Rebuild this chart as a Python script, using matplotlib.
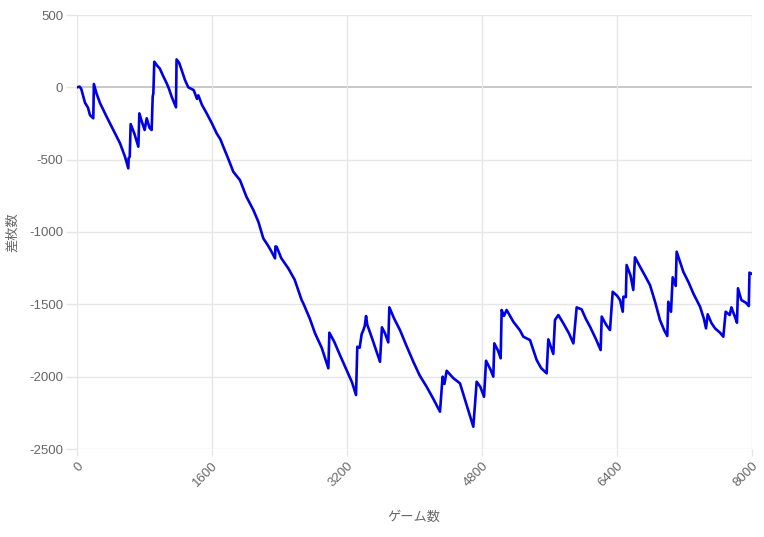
import matplotlib
matplotlib.use("Agg")
import matplotlib.pyplot as plt

games = [0, 30, 50, 95, 130, 154, 193, 200, 230, 273, 351, 430, 510, 569, 608, 612, 625, 636, 680, 727,
         739, 770, 802, 826, 860, 885, 897, 905, 916, 950, 980, 1020, 1063, 1090, 1122, 1173, 1180, 1210,
         1240, 1280, 1319, 1383, 1410, 1422, 1438, 1480, 1537, 1600, 1655, 1700, 1734, 1790, 1852, 1932,
         2008, 2090, 2150, 2208, 2260, 2300, 2347, 2352, 2366, 2420, 2504, 2580, 2662, 2682, 2760, 2821,
         2900, 2979, 2991, 3050, 3116, 3200, 3260, 3307, 3322, 3350, 3374, 3394, 3410, 3426, 3440, 3500,
         3591, 3614, 3650, 3689, 3702, 3760, 3828, 3900, 3986, 4060, 4144, 4220, 4302, 4333, 4355, 4381,
         4460, 4539, 4620, 4697, 4737, 4780, 4824, 4848, 4900, 4934, 4946, 4990, 5021, 5033, 5060, 5092,
         5171, 5250, 5290, 5369, 5448, 5500, 5566, 5586, 5620, 5645, 5665, 5705, 5764, 5830, 5883, 5922,
         5981, 6030, 6080, 6150, 6206, 6219, 6270, 6317, 6349, 6400, 6436, 6468, 6476, 6505, 6514, 6560,
         6593, 6613, 6673, 6730, 6791, 6850, 6909, 6960, 6996, 7008, 7040, 7060, 7096, 7107, 7186, 7250,
         7304, 7384, 7430, 7455, 7475, 7520, 7562, 7621, 7660, 7688, 7736, 7756, 7800, 7822, 7834, 7873,
         7930, 7962, 7970, 8000]
diff = [0, 5, -10, -107, -140, -192, -214, 23, -40, -109, -203, -295, -387, -480, -560, -490, -480, -254,
        -320, -410, -180, -240, -295, -214, -280, -295, -65, -40, 177, 150, 131, 80, 28, -10, -65, -138,
        193, 170, 120, 50, 0, -19, -60, -80, -55, -120, -180, -250, -318, -360, -410, -490, -583, -642,
        -756, -848, -930, -1044, -1090, -1130, -1182, -1100, -1102, -1180, -1251, -1330, -1470, -1493,
        -1600, -1700, -1800, -1942, -1696, -1760, -1850, -1960, -2040, -2127, -1793, -1800, -1705, -1678,
        -1650, -1581, -1640, -1740, -1897, -1659, -1700, -1763, -1521, -1600, -1678, -1780, -1897, -1990,
        -2070, -2150, -2242, -2000, -2050, -1959, -2010, -2046, -2200, -2346, -2035, -2070, -2139, -1890,
        -1950, -2000, -1770, -1820, -1873, -1539, -1580, -1539, -1620, -1680, -1724, -1747, -1885, -1940,
        -1977, -1742, -1800, -1843, -1608, -1574, -1631, -1700, -1770, -1521, -1535, -1600, -1654, -1740,
        -1816, -1585, -1640, -1678, -1413, -1440, -1470, -1551, -1447, -1450, -1228, -1300, -1401, -1175,
        -1240, -1300, -1367, -1480, -1608, -1680, -1719, -1482, -1551, -1313, -1373, -1136, -1275, -1350,
        -1424, -1516, -1600, -1666, -1569, -1630, -1666, -1696, -1724, -1551, -1574, -1521, -1590, -1627,
        -1389, -1470, -1490, -1512, -1281, -1290]

x_ticks = [0, 1600, 3200, 4800, 6400, 8000]
y_ticks = [500, 0, -500, -1000, -1500, -2000, -2500]
x_label = "ゲーム数"
y_label = "差枚数"

plt.rcParams['font.family'] = ['Liberation Sans', 'Noto Sans CJK JP', 'DejaVu Sans']

W, H = 764, 537
fig = plt.figure(figsize=(W/100, H/100), dpi=100)
ax = fig.add_axes([77/W, 1-449/H, 675/W, 434/H])

grid_c = '#e6e6e6'
for yt in y_ticks:
    ax.axhline(yt, color='#c8c8c8' if yt == 0 else grid_c, lw=1.4 if yt == 0 else 1.0, zorder=1)
for xt in x_ticks:
    ax.axvline(xt, color=grid_c, lw=1.0, zorder=1)

ax.plot(games, diff, color='#0000e6', lw=1.9, zorder=3, solid_joinstyle='round')

ax.set_xlim(0, 8000)
ax.set_ylim(-2500, 500)
ax.set_xticks(x_ticks)
ax.set_yticks(y_ticks)
ax.set_yticklabels([str(v) for v in y_ticks])
ax.set_xticklabels([str(v) for v in x_ticks], rotation=45, ha='right', rotation_mode='anchor')
for s in ax.spines.values():
    s.set_visible(False)
ax.tick_params(axis='both', colors=grid_c, length=8, width=1.0, labelcolor='#666666', labelsize=9.5)
ax.tick_params(axis='y', pad=2)
ax.tick_params(axis='x', length=5, pad=3)

fig.text(414/W, 1-517/H, x_label, color='#666666', fontsize=9.5, ha='center', va='center',
         family=['Noto Sans CJK JP', 'DejaVu Sans'])
fig.text(13/W, 1-232/H, y_label, color='#666666', fontsize=9.5, ha='center', va='center',
         rotation=90, family=['Noto Sans CJK JP', 'DejaVu Sans'])

fig.savefig('out.png', dpi=100)
